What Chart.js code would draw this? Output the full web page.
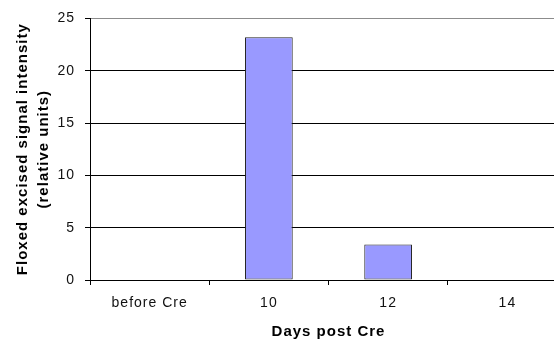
<!DOCTYPE html>
<html>
<head>
<meta charset="utf-8">
<script src="https://cdn.jsdelivr.net/npm/chart.js@4/dist/chart.umd.min.js"></script>
<style>
  html, body { margin: 0; padding: 0; background: #fff; overflow: hidden; }
  #wrap { width: 567px; height: 341px; }
</style>
</head>
<body>
<div id="wrap"><canvas id="c" width="567" height="341" style="width:567px;height:341px"></canvas></div>
<script>
// Chart data
const categories = ['before Cre', '10', '12', '14'];
const signalValues = [0, 23.2, 3.4, 0];
const yTicks = [0, 5, 10, 15, 20, 25];
const xTitle = 'Days post Cre';
const yTitle = ['Floxed excised signal intensity', '(relative units)'];

const FONT = '"Liberation Sans", Arial, sans-serif';

// Excel-like wide letter spacing for all canvas text
const spacingPlugin = {
  id: 'spacing',
  beforeUpdate(chart) { chart.ctx.letterSpacing = '1px'; },
  beforeDraw(chart) { chart.ctx.letterSpacing = '1px'; }
};

new Chart(document.getElementById('c'), {
  type: 'bar',
  data: {
    labels: categories,
    datasets: [{
      data: signalValues,
      backgroundColor: '#9999FF',
      borderColor: '#222',
      borderWidth: 1,
      borderSkipped: false,
      barPercentage: 0.4,
      categoryPercentage: 1.0
    }]
  },
  plugins: [spacingPlugin],
  options: {
    responsive: false,
    animation: false,
    devicePixelRatio: 1,
    layout: { padding: { top: 17, right: 0, bottom: 0, left: 0 } },
    plugins: { legend: { display: false }, tooltip: { enabled: false } },
    scales: {
      x: {
        offset: true,
        grid: {
          offset: true,
          drawOnChartArea: false,
          drawTicks: true,
          tickLength: 5,
          color: '#000',
          lineWidth: 1
        },
        border: { display: true, color: '#000', width: 1 },
        ticks: {
          color: '#111',
          padding: 10,
          maxRotation: 0,
          font: { family: FONT, size: 14 }
        },
        title: {
          display: true,
          text: xTitle,
          color: '#000',
          padding: { top: 0, bottom: 0 },
          font: { family: FONT, size: 15, weight: 'bold' }
        },
        afterFit(scale) { scale.height = 61; }
      },
      y: {
        min: 0,
        max: 25,
        afterBuildTicks(scale) { scale.ticks = yTicks.map(v => ({ value: v })); },
        grid: {
          color: (ctx) => (ctx.tick && ctx.tick.value === 25 ? '#8c8c8c' : '#000'),
          tickColor: '#000',
          lineWidth: 1,
          drawTicks: true,
          tickLength: 5
        },
        border: { display: true, color: '#000', width: 1 },
        ticks: {
          color: '#111',
          padding: 10,
          font: { family: FONT, size: 14 }
        },
        title: {
          display: true,
          text: yTitle,
          color: '#000',
          padding: { top: 12, bottom: 0 },
          font: { family: FONT, size: 15, weight: 'bold', lineHeight: 1.4 }
        },
        afterFit(scale) { scale.width = 90; }
      }
    }
  }
});
</script>
</body>
</html>
